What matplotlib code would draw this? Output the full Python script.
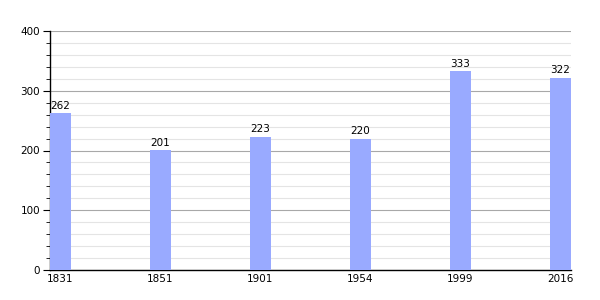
import matplotlib
matplotlib.use('Agg')
import matplotlib.pyplot as plt
from matplotlib.ticker import MultipleLocator

years = ['1831', '1851', '1901', '1954', '1999', '2016']
population = [262, 201, 223, 220, 333, 322]

fig = plt.figure(figsize=(6, 3), dpi=100)
ax = fig.add_axes([50 / 600, 0.1, 521 / 600, 239 / 300])

pos = list(range(len(years)))
ax.bar(pos, population, width=0.21, align='edge', color='#99aaff', zorder=3)

for x, v in zip(pos, population):
    ax.text(x + 0.105, v + 4, str(v), ha='center', va='bottom', fontsize=7.5)

ax.set_xlim(0, 5.21)
ax.set_ylim(0, 400)
ax.set_xticks([p + 0.105 for p in pos])
ax.set_xticklabels(years, fontsize=7.5)
ax.tick_params(axis='x', length=0, pad=3)

ax.yaxis.set_major_locator(MultipleLocator(100))
ax.yaxis.set_minor_locator(MultipleLocator(20))
ax.tick_params(axis='y', which='major', length=5, labelsize=7.5, pad=2)
ax.tick_params(axis='y', which='minor', length=3)
ax.grid(axis='y', which='major', color='#a8a8a8', linewidth=0.8, zorder=1)
ax.grid(axis='y', which='minor', color='#e4e4e4', linewidth=0.8, zorder=0)

for s in ['top', 'right']:
    ax.spines[s].set_visible(False)
ax.spines['left'].set_linewidth(1)
ax.spines['bottom'].set_linewidth(1)

fig.savefig('out.png', dpi=100)
